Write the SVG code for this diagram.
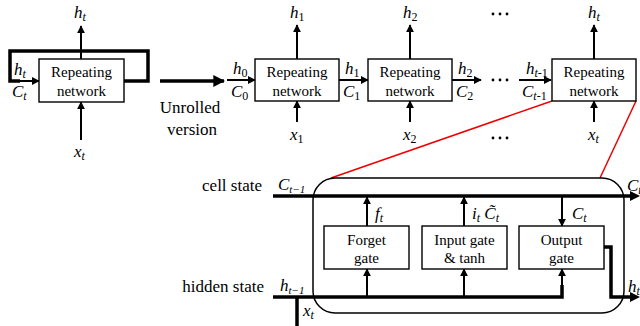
<svg xmlns="http://www.w3.org/2000/svg" width="640" height="326" viewBox="0 0 640 326" font-family="'Liberation Serif', 'Times New Roman', serif">
<defs>
<marker id="ah" viewBox="0 0 10 10" refX="9" refY="5" markerWidth="4" markerHeight="4" orient="auto" markerUnits="strokeWidth">
<path d="M0,0 L10,5 L0,10 z" fill="#000"/>
</marker>
<marker id="ahb" viewBox="0 0 10 10" refX="9" refY="5" markerWidth="3.4" markerHeight="3.4" orient="auto" markerUnits="strokeWidth">
<path d="M0,0 L10,5 L0,10 z" fill="#000"/>
</marker>
</defs>
<style>
text{font-family:"Liberation Serif","Times New Roman",serif;fill:#000}
.box{fill:#fff;stroke:#000;stroke-width:1.4}
.t{font-size:15px;text-anchor:middle}
.lbl{font-size:17px}
.m{font-style:italic;font-size:17px}
.s{font-size:12px}
.ss{font-size:11px}
.a{fill:none;stroke:#000;stroke-width:2;marker-end:url(#ah)}
.th{fill:none;stroke:#000;stroke-width:3.5}
.thA{fill:none;stroke:#000;stroke-width:3.5;marker-end:url(#ahb)}
.red{stroke:#e00;stroke-width:1.5;fill:none}
.dot{fill:#000}
</style>

<g id="connectors">
<polyline class="th" points="124,81 148,81 148,51 10,51 10,81 20,81"/>
<line class="a" x1="12" y1="81" x2="39" y2="81"/>
<line class="a" x1="81" y1="59" x2="81" y2="26"/>
<line class="a" x1="81" y1="140" x2="81" y2="102"/>
<line class="thA" x1="160" y1="81" x2="224" y2="81"/>
<line class="a" x1="227" y1="80" x2="255" y2="80"/>
<line class="a" x1="339" y1="80" x2="368" y2="80"/>
<line class="a" x1="452" y1="80" x2="481" y2="80"/>
<line class="a" x1="519" y1="80" x2="551" y2="80"/>
<line class="a" x1="297" y1="59" x2="297" y2="25"/>
<line class="a" x1="410" y1="59" x2="410" y2="25"/>
<line class="a" x1="594" y1="59" x2="594" y2="25"/>
<line class="a" x1="297" y1="122" x2="297" y2="101"/>
<line class="a" x1="410" y1="122" x2="410" y2="101"/>
<line class="a" x1="594" y1="122" x2="594" y2="101"/>
<line class="red" x1="552" y1="101" x2="331" y2="178"/>
<line class="red" x1="636" y1="101" x2="600" y2="178"/>
<rect x="313" y="178" width="311" height="135" rx="22" ry="22" fill="none" stroke="#000" stroke-width="1.5"/>
<line class="th" x1="273" y1="196" x2="632" y2="196"/>
<path d="M630,191 L640,196 L630,201 z" fill="#000"/>
<polyline class="th" points="273,297 562,297 562,285"/>
<line class="th" x1="297" y1="297" x2="297" y2="326"/>
<line class="a" x1="367" y1="226" x2="367" y2="197"/>
<line class="a" x1="464" y1="226" x2="464" y2="197"/>
<line class="a" x1="562" y1="197" x2="562" y2="226"/>
<line class="a" x1="367" y1="297" x2="367" y2="269"/>
<line class="a" x1="464" y1="297" x2="464" y2="269"/>
<line class="a" x1="562" y1="297" x2="562" y2="269"/>
<polyline class="th" points="604,247 611,247 611,297 632,297"/>
<path d="M630,292 L640,297 L630,302 z" fill="#000"/>
</g>

<g id="folded">
<rect class="box" x="39" y="59" width="85" height="43"/>
<text class="t" x="81.5" y="77">Repeating</text>
<text class="t" x="81.5" y="96">network</text>
</g>
<g id="box1">
<rect class="box" x="255" y="59" width="84" height="42"/>
<text class="t" x="297" y="77">Repeating</text>
<text class="t" x="297" y="96">network</text>
</g>
<g id="box2">
<rect class="box" x="368" y="59" width="84" height="42"/>
<text class="t" x="410" y="77">Repeating</text>
<text class="t" x="410" y="96">network</text>
</g>
<g id="box3">
<rect class="box" x="552" y="59" width="84" height="42"/>
<text class="t" x="594" y="77">Repeating</text>
<text class="t" x="594" y="96">network</text>
</g>
<g id="forget">
<rect class="box" x="324" y="226" width="85" height="43"/>
<text class="t" x="366.5" y="245">Forget</text>
<text class="t" x="366.5" y="263">gate</text>
</g>
<g id="input">
<rect class="box" x="422" y="226" width="85" height="43"/>
<text class="t" x="464.5" y="245">Input gate</text>
<text class="t" x="464.5" y="263">&amp; tanh</text>
</g>
<g id="output">
<rect class="box" x="519" y="226" width="85" height="43"/>
<text class="t" x="561.5" y="245">Output</text>
<text class="t" x="561.5" y="263">gate</text>
</g>

<g id="dots">
<circle class="dot" cx="493" cy="14" r="1.4"/><circle class="dot" cx="500" cy="14" r="1.4"/><circle class="dot" cx="507" cy="14" r="1.4"/>
<circle class="dot" cx="493" cy="80" r="1.4"/><circle class="dot" cx="500" cy="80" r="1.4"/><circle class="dot" cx="507" cy="80" r="1.4"/>
<circle class="dot" cx="493" cy="138" r="1.4"/><circle class="dot" cx="500" cy="138" r="1.4"/><circle class="dot" cx="507" cy="138" r="1.4"/>
</g>

<g id="labels">
<text class="m" x="74" y="18">h<tspan class="s" dy="3">t</tspan></text>
<text class="m" x="14" y="75">h<tspan class="s" dy="3">t</tspan></text>
<text class="m" x="12" y="97">C<tspan class="s" dy="3">t</tspan></text>
<text class="m" x="74" y="157">x<tspan class="s" dy="3">t</tspan></text>
<text class="lbl" x="190" y="113" text-anchor="middle">Unrolled</text>
<text class="lbl" x="192" y="135" text-anchor="middle">version</text>

<text class="m" x="233" y="74">h<tspan class="s" dy="3" font-style="normal">0</tspan></text>
<text class="m" x="231" y="97">C<tspan class="s" dy="3" font-style="normal">0</tspan></text>
<text class="m" x="345" y="74">h<tspan class="s" dy="3" font-style="normal">1</tspan></text>
<text class="m" x="343" y="97">C<tspan class="s" dy="3" font-style="normal">1</tspan></text>
<text class="m" x="458" y="74">h<tspan class="s" dy="3" font-style="normal">2</tspan></text>
<text class="m" x="456" y="97">C<tspan class="s" dy="3" font-style="normal">2</tspan></text>
<text class="m" x="526" y="74">h<tspan class="s" dy="3">t</tspan><tspan class="s" font-style="normal">-1</tspan></text>
<text class="m" x="522" y="97">C<tspan class="s" dy="3">t</tspan><tspan class="s" font-style="normal">-1</tspan></text>
<text class="m" x="290" y="18">h<tspan class="s" dy="3" font-style="normal">1</tspan></text>
<text class="m" x="403" y="18">h<tspan class="s" dy="3" font-style="normal">2</tspan></text>
<text class="m" x="588" y="18">h<tspan class="s" dy="3">t</tspan></text>
<text class="m" x="290" y="140">x<tspan class="s" dy="3" font-style="normal">1</tspan></text>
<text class="m" x="403" y="140">x<tspan class="s" dy="3" font-style="normal">2</tspan></text>
<text class="m" x="588" y="140">x<tspan class="s" dy="3">t</tspan></text>

<text class="lbl" x="262" y="191" text-anchor="end">cell state</text>
<text class="lbl" x="264" y="292" text-anchor="end">hidden state</text>
<text class="m" x="278" y="190">C<tspan class="ss" dy="3">t−1</tspan></text>
<text class="m" x="280" y="291">h<tspan class="ss" dy="3">t−1</tspan></text>
<text class="m" x="303" y="316">x<tspan class="s" dy="3">t</tspan></text>
<text class="m" x="375" y="219">f<tspan class="s" dy="3">t</tspan></text>
<text class="m" x="472" y="219">i<tspan class="s" dy="3">t</tspan><tspan dy="-3"> C̃</tspan><tspan class="s" dy="3">t</tspan></text>
<text class="m" x="572" y="219">C<tspan class="s" dy="3">t</tspan></text>
<text class="m" x="627" y="191">C<tspan class="s" dy="3">t</tspan></text>
<text class="m" x="628" y="292">h<tspan class="s" dy="3">t</tspan></text>
</g>
</svg>
